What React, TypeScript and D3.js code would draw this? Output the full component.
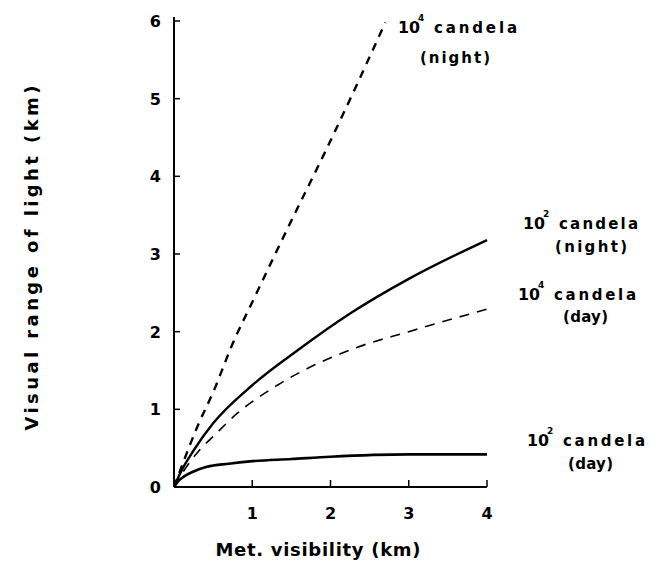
import React from "react";
import * as d3 from "d3";

const xTicks = [1, 2, 3, 4];
const yTicks = [0, 1, 2, 3, 4, 5, 6];

const night4X = [0, 0.1, 0.3, 0.5, 0.76, 1, 1.5, 1.91, 2.3, 2.7];
const night4Y = [0, 0.27, 0.78, 1.22, 1.87, 2.38, 3.43, 4.27, 5.1, 5.98];

const night2X = [0, 0.1, 0.25, 0.5, 1, 1.58, 2.26, 3, 4];
const night2Y = [0, 0.22, 0.47, 0.82, 1.31, 1.76, 2.24, 2.68, 3.18];

const day4X = [0, 0.1, 0.33, 0.5, 0.81, 1.32, 2.29, 3, 4];
const day4Y = [0, 0.17, 0.48, 0.65, 0.95, 1.31, 1.78, 2.0, 2.29];

const day2X = [0, 0.05, 0.12, 0.25, 0.42, 0.7, 0.97, 1.5, 2, 3, 4];
const day2Y = [0, 0.07, 0.13, 0.2, 0.26, 0.3, 0.33, 0.36, 0.39, 0.42, 0.42];

const FONT = "'DejaVu Sans', 'Liberation Sans', Arial, sans-serif";

export default function App() {
  const x = d3.scaleLinear().domain([0, 4]).range([174, 487]);
  const y = d3.scaleLinear().domain([0, 6]).range([487, 21]);
  const line = d3
    .line<[number, number]>()
    .x((d) => x(d[0]))
    .y((d) => y(d[1]))
    .curve(d3.curveMonotoneX);
  const pts = (xs: number[], ys: number[]) => xs.map((v, i) => [v, ys[i]] as [number, number]);

  const label = (
    px: number,
    py: number,
    exp: string,
    cw: number,
    sub: string,
    sx: number,
    sy: number,
    sw: number
  ) => (
    <g>
      <text x={px} y={py} fontSize={15} fontWeight="bold" fontFamily={FONT} textLength={22} lengthAdjust="spacingAndGlyphs">10</text>
      <text x={px + 20} y={py - 12} fontSize={9} fontWeight="bold" fontFamily={FONT}>{exp}</text>
      <text x={px + 36} y={py} fontSize={15} fontWeight="bold" fontFamily={FONT} textLength={cw} lengthAdjust="spacing">candela</text>
      <text x={sx} y={sy} fontSize={15} fontWeight="bold" fontFamily={FONT} textLength={sw} lengthAdjust="spacing">{sub}</text>
    </g>
  );

  return (
    <svg width={650} height={579} style={{ position: "absolute", left: 0, top: 0, background: "#fff" }}>
      {/* axes */}
      <line x1={x(0)} y1={y(0)} x2={x(0)} y2={y(6) - 4} stroke="#000" strokeWidth={2} />
      <line x1={x(0)} y1={y(0)} x2={x(4)} y2={y(0)} stroke="#000" strokeWidth={2} />
      {yTicks.filter((t) => t > 0).map((t) => (
        <line key={"yt" + t} x1={x(0)} x2={x(0) + 6} y1={y(t)} y2={y(t)} stroke="#000" strokeWidth={1.5} />
      ))}
      {xTicks.map((t) => (
        <line key={"xt" + t} x1={x(t)} x2={x(t)} y1={y(0)} y2={y(0) - 7} stroke="#000" strokeWidth={1.5} />
      ))}
      {yTicks.map((t) => (
        <text key={"yl" + t} x={161} y={y(t) + 6} textAnchor="end" fontSize={16} fontWeight="bold" fontFamily={FONT}>{t}</text>
      ))}
      {xTicks.map((t) => (
        <text key={"xl" + t} x={x(t)} y={519} textAnchor="middle" fontSize={16} fontWeight="bold" fontFamily={FONT}>{t}</text>
      ))}
      <text x={0} y={0} transform="translate(38,258) rotate(-90)" textAnchor="middle" fontSize={18} fontWeight="bold" fontFamily={FONT} textLength={345} lengthAdjust="spacing">Visual range of light (km)</text>
      <text x={318} y={556} textAnchor="middle" fontSize={18} fontWeight="bold" fontFamily={FONT} textLength={205} lengthAdjust="spacing">Met. visibility (km)</text>

      {/* curves */}
      <path d={line(pts(night4X, night4Y)) || ""} fill="none" stroke="#000" strokeWidth={2.4} strokeDasharray="8,7" />
      <path d={line(pts(night2X, night2Y)) || ""} fill="none" stroke="#000" strokeWidth={2.4} />
      <path d={line(pts(day4X, day4Y)) || ""} fill="none" stroke="#000" strokeWidth={1.6} strokeDasharray="10,8" />
      <path d={line(pts(day2X, day2Y)) || ""} fill="none" stroke="#000" strokeWidth={2.6} />

      {/* labels */}
      {label(398, 33, "4", 83, "(night)", 420, 63, 70)}
      {label(523, 229, "2", 79, "(night)", 555, 252, 72)}
      {label(518, 300, "4", 82, "(day)", 563, 322, 45)}
      {label(527, 446, "2", 82, "(day)", 568, 469, 45)}
    </svg>
  );
}
